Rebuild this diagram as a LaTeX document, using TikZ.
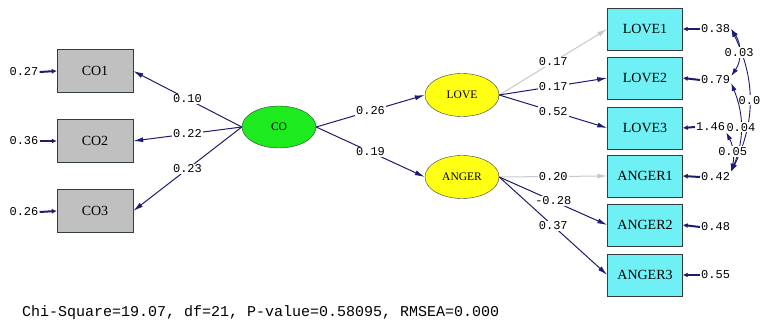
\documentclass[tikz,border=0pt]{standalone}
\usepackage{fontspec}
\setmainfont{Liberation Serif}
\newfontfamily\lismono{Liberation Mono}
\usepackage{xcolor}
\usetikzlibrary{arrows.meta,shapes.geometric}

\definecolor{navy}{RGB}{28,28,112}
\definecolor{fixgray}{RGB}{200,200,200}
\definecolor{obsgray}{RGB}{192,192,192}
\definecolor{obscyan}{RGB}{110,240,245}
\definecolor{latgreen}{RGB}{30,235,30}
\definecolor{latyellow}{RGB}{255,255,20}
\definecolor{rim}{RGB}{50,60,60}

\begin{document}
\begin{tikzpicture}[x=1pt, y=1pt,
  obs/.style={draw=rim, rectangle, minimum width=76pt, minimum height=43pt, inner sep=0pt, font=\fontsize{14}{14}\selectfont},
  coobs/.style={obs, fill=obsgray},
  emobs/.style={obs, fill=obscyan, minimum width=75pt, minimum height=42pt},
  latent/.style={draw=rim, ellipse, minimum width=74pt, minimum height=42pt, inner sep=0pt, font=\fontsize{11.5}{12}\selectfont},
  num/.style={font=\lismono\fontsize{12}{12}\selectfont, inner sep=1pt},
  lbl/.style={num, fill=white},
  load/.style={draw=navy, line width=1pt, -{Latex[length=10pt,width=5pt]}},
  fixed/.style={load, draw=fixgray},
  err/.style={draw=navy, line width=2pt, -{Latex[length=5pt,width=5pt]}},
  corr/.style={draw=navy, line width=0.9pt, {Latex[length=8pt,width=5pt]}-{Latex[length=8pt,width=5pt]}}
]
\useasboundingbox (0,0) rectangle (761,-323);

% Observed CO indicators
\node[coobs] (co1) at (95,-71) {CO1};
\node[coobs] (co2) at (95,-141) {CO2};
\node[coobs] (co3) at (95,-211) {CO3};

% Latent variables
\node[latent, fill=latgreen] (co) at (279,-127) {CO};
\node[latent, fill=latyellow, minimum height=43pt] (love) at (462,-95) {LOVE};
\node[latent, fill=latyellow, minimum height=43pt] (anger) at (462,-177) {ANGER};

% Emotion indicators
\node[emobs] (love1) at (645,-29) {LOVE1};
\node[emobs] (love2) at (645,-78) {LOVE2};
\node[emobs] (love3) at (645,-128) {LOVE3};
\node[emobs] (anger1) at (645,-176) {ANGER1};
\node[emobs] (anger2) at (645,-225) {ANGER2};
\node[emobs] (anger3) at (645,-275) {ANGER3};

% Error variances, left
\node[num] (e1) at (24,-72) {0.27};
\node[num] (e2) at (24,-141) {0.36};
\node[num] (e3) at (24,-212) {0.26};
\draw[err] (e1.east) -- (co1.west);
\draw[err] (e2.east) -- (co2.west);
\draw[err] (e3.east) -- (co3.west);

% Error variances, right
\node[num, anchor=west] (r1) at (700,-29) {0.38};
\node[num, anchor=west] (r2) at (700,-80) {0.79};
\node[num, anchor=west] (r3) at (695,-127) {1.46};
\node[num, anchor=west] (r4) at (700,-177) {0.42};
\node[num, anchor=west] (r5) at (700,-227) {0.48};
\node[num, anchor=west] (r6) at (700,-275) {0.55};
\draw[err] (r1.west) -- (love1.east);
\draw[err] (r2.west) -- (love2.east);
\draw[err] (r3.west) -- (love3.east);
\draw[err] (r4.west) -- (anger1.east);
\draw[err] (r5.west) -- (anger2.east);
\draw[err] (r6.west) -- (anger3.east);

% Loadings
\draw[load] (co.west) -- node[lbl] {0.10} (co1.east);
\draw[load] (co.west) -- node[lbl] {0.22} (co2.east);
\draw[load] (co.west) -- node[lbl] {0.23} (co3.east);
\draw[load] (co.east) -- node[lbl] {0.26} (love.west);
\draw[load] (co.east) -- node[lbl] {0.19} (anger.west);
\draw[fixed] (love.east) -- node[lbl] {0.17} (love1.west);
\draw[load] (love.east) -- node[lbl] {0.17} (love2.west);
\draw[load] (love.east) -- node[lbl] {0.52} (love3.west);
\draw[fixed] (anger.east) -- node[lbl] {0.20} (anger1.west);
\draw[load] (anger.east) -- node[lbl] {-0.28} (anger2.west);
\draw[load] (anger.east) -- node[lbl] {0.37} (anger3.west);

% Error covariances
\draw[corr] (r1.east) to[bend left=26] node[lbl] {0.0} (r4.north east);
\draw[corr] (r1.east) to[bend left=35] node[lbl] {0.03} ([yshift=4pt]r2.east);
\draw[corr] ([yshift=-3pt]r2.east) to[bend left=22] node[lbl] {0.04} (r4.north east);
\draw[corr] (r3.south east) to[bend left=20] node[lbl] {0.05} (r4.north east);

% Fit statistics
\node[num, font=\lismono\fontsize{15}{15}\selectfont, anchor=west] (fit) at (21,-313) {Chi-Square=19.07, df=21, P-value=0.58095, RMSEA=0.000};

\end{tikzpicture}
\end{document}
